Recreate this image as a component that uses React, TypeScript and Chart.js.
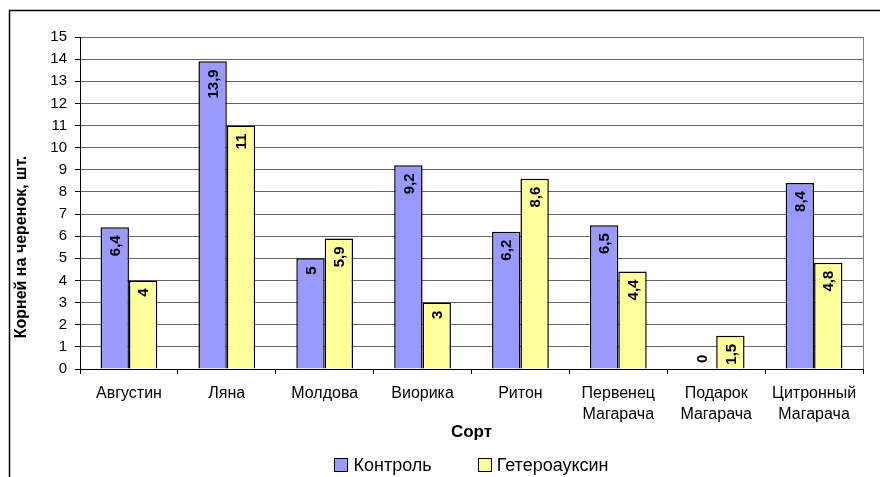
import React, { useEffect, useRef } from 'react';
import { Chart, registerables } from 'chart.js';

Chart.register(...registerables);

const categories: string[][] = [
  ['Августин'],
  ['Ляна'],
  ['Молдова'],
  ['Виорика'],
  ['Ритон'],
  ['Первенец', 'Магарача'],
  ['Подарок', 'Магарача'],
  ['Цитронный', 'Магарача'],
];
const controlValues = [6.4, 13.9, 5, 9.2, 6.2, 6.5, 0, 8.4];
const auxinValues = [4, 11, 5.9, 3, 8.6, 4.4, 1.5, 4.8];
const seriesNames = ['Контроль', 'Гетероауксин'];
const seriesColors = ['#9999FF', '#FFFF99'];
const yAxisTitle = 'Корней на черенок, шт.';
const xAxisTitle = 'Сорт';
const yMin = 0;
const yMax = 15;
const yStep = 1;

const FONT = "'Liberation Sans', Arial, sans-serif";

const labelsPlugin = {
  id: 'barLabels',
  afterDatasetsDraw(chart: any) {
    const ctx = chart.ctx;
    ctx.save();
    ctx.font = `bold 15px ${FONT}`;
    ctx.fillStyle = '#000';
    chart.data.datasets.forEach((ds: any, i: number) => {
      const meta = chart.getDatasetMeta(i);
      meta.data.forEach((bar: any, j: number) => {
        const v = ds.data[j];
        const text = String(v).replace('.', ',');
        ctx.save();
        ctx.translate(bar.x, v === 0 ? bar.y - 6 : bar.y + 8);
        ctx.rotate(-Math.PI / 2);
        ctx.textAlign = v === 0 ? 'left' : 'right';
        ctx.textBaseline = 'middle';
        ctx.fillText(text, 0, 1);
        ctx.restore();
      });
    });
    ctx.restore();
  },
};

const decorPlugin = {
  id: 'decor',
  beforeDatasetsDraw(chart: any) {
    const { ctx, chartArea } = chart;
    ctx.save();
    ctx.strokeStyle = '#808080';
    ctx.lineWidth = 1;
    ctx.beginPath();
    ctx.moveTo(Math.round(chartArea.right) + 0.5, chartArea.top);
    ctx.lineTo(Math.round(chartArea.right) + 0.5, chartArea.bottom);
    ctx.stroke();
    ctx.restore();
  },
  afterDraw(chart: any) {
    const { ctx, chartArea, width, height } = chart;
    ctx.save();
    // outer frame
    ctx.strokeStyle = '#000';
    ctx.lineWidth = 1.5;
    ctx.beginPath();
    ctx.moveTo(9.5, height);
    ctx.lineTo(9.5, 10.5);
    ctx.lineTo(width, 10.5);
    ctx.stroke();

    // y axis title
    ctx.fillStyle = '#000';
    ctx.font = `bold 16px ${FONT}`;
    ctx.translate(22, (chartArea.top + chartArea.bottom) / 2 + 44);
    ctx.rotate(-Math.PI / 2);
    ctx.textAlign = 'center';
    ctx.textBaseline = 'middle';
    ctx.fillText(yAxisTitle, 0, 0);
    ctx.restore();

    // legend
    ctx.save();
    ctx.font = `18px ${FONT}`;
    ctx.textBaseline = 'middle';
    const box = 13;
    const gap = 6;
    const spacing = 46;
    const widths = seriesNames.map((n) => ctx.measureText(n).width);
    const total = widths.reduce((a, w) => a + box + gap + w, 0) + spacing * (seriesNames.length - 1);
    let x = (chartArea.left + chartArea.right) / 2 - total / 2;
    const yc = 465;
    seriesNames.forEach((n, i) => {
      ctx.fillStyle = seriesColors[i];
      ctx.fillRect(Math.round(x) + 0.5, yc - box / 2, box, box);
      ctx.strokeStyle = '#000';
      ctx.lineWidth = 1;
      ctx.strokeRect(Math.round(x) + 0.5, yc - box / 2, box, box);
      ctx.fillStyle = '#000';
      ctx.fillText(n, x + box + gap, yc + 1);
      x += box + gap + widths[i] + spacing;
    });
    ctx.restore();
  },
};

export default function App() {
  const ref = useRef<HTMLCanvasElement>(null);
  useEffect(() => {
    if (!ref.current) return;
    const chart = new Chart(ref.current, {
      type: 'bar',
      data: {
        labels: categories,
        datasets: [
          {
            label: seriesNames[0],
            data: controlValues,
            backgroundColor: seriesColors[0],
            borderColor: '#000',
            borderWidth: 1.5,
            categoryPercentage: 0.58,
            barPercentage: 1,
          },
          {
            label: seriesNames[1],
            data: auxinValues,
            backgroundColor: seriesColors[1],
            borderColor: '#000',
            borderWidth: 1.5,
            categoryPercentage: 0.58,
            barPercentage: 1,
          },
        ],
      },
      options: {
        responsive: false,
        animation: false,
        layout: { padding: { top: 37, right: 17, left: 0, bottom: 0 } },
        plugins: {
          legend: { display: false },
          tooltip: { enabled: false },
        },
        scales: {
          x: {
            grid: {
              display: true,
              drawOnChartArea: false,
              drawTicks: true,
              tickLength: 5,
              color: '#000',
              offset: true,
            },
            border: { color: '#000', width: 1 },
            ticks: {
              font: { family: FONT, size: 16, lineHeight: 1.3 },
              color: '#000',
              padding: 9,
              maxRotation: 0,
              autoSkip: false,
            },
            title: {
              display: true,
              text: xAxisTitle,
              font: { family: FONT, size: 17, weight: 'bold' },
              color: '#000',
              padding: { top: 0, bottom: 34 },
            },
            afterFit: (s: any) => {
              s.height = 108;
            },
          },
          y: {
            min: yMin,
            max: yMax,
            ticks: {
              stepSize: yStep,
              autoSkip: false,
              font: { family: FONT, size: 15 },
              color: '#000',
              padding: 8,
            },
            grid: { color: '#666', tickLength: 5, tickColor: '#000' },
            border: { color: '#000', width: 1 },
            afterFit: (s: any) => {
              s.width = 80;
            },
          },
        },
      },
      plugins: [labelsPlugin, decorPlugin],
    } as any);
    return () => chart.destroy();
  }, []);
  return (
    <div style={{ position: 'fixed', left: 0, top: 0, width: 880, height: 477, background: '#fff' }}>
      <canvas ref={ref} width={880} height={477} />
    </div>
  );
}
